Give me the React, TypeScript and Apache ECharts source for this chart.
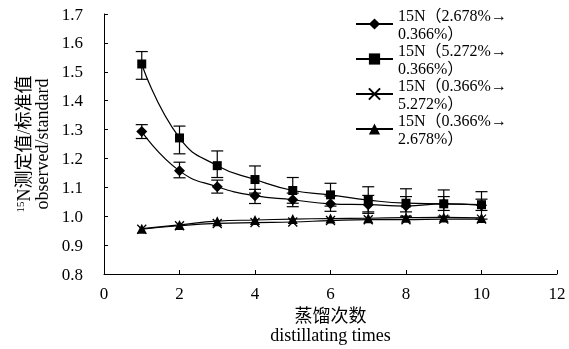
import React, { useEffect, useRef } from "react";
import * as echarts from "echarts";

const xs = [1, 2, 3, 4, 5, 6, 7, 8, 9, 10];
const seriesNames = [
  "15N（2.678%→\n0.366%）",
  "15N（5.272%→\n0.366%）",
  "15N（0.366%→\n5.272%）",
  "15N（0.366%→\n2.678%）",
];
const diamondVals = [1.293, 1.157, 1.102, 1.071, 1.057, 1.043, 1.04, 1.035, 1.043, 1.038];
const squareVals = [1.527, 1.271, 1.175, 1.127, 1.089, 1.074, 1.056, 1.045, 1.043, 1.04];
const crossVals = [0.955, 0.967, 0.975, 0.978, 0.98, 0.985, 0.988, 0.988, 0.99, 0.99];
const triVals = [0.957, 0.97, 0.983, 0.987, 0.99, 0.992, 0.993, 0.995, 0.996, 0.994];

const diamondLo = [1.269, 1.133, 1.08, 1.044, 1.033, 1.017, 1.015, 1.015, 1.02, 1.02];
const diamondHi = [1.317, 1.187, 1.125, 1.093, 1.08, 1.07, 1.072, 1.068, 1.068, 1.059];
const squareLo = [1.474, 1.216, 1.134, 1.08, 1.045, 1.035, 1.01, 1.0, 1.0, 0.99];
const squareHi = [1.57, 1.312, 1.226, 1.174, 1.134, 1.114, 1.102, 1.095, 1.091, 1.085];

const yTicks = { min: 0.8, max: 1.7, interval: 0.1 };
const xTicks = { min: 0, max: 12, interval: 2 };

const FONT = "Liberation Serif, Noto Sans CJK SC, serif";

function errorBar(lo: number[], hi: number[]) {
  return {
    type: "custom",
    silent: true,
    data: xs.map((x, i) => [x, lo[i], hi[i]]),
    encode: { x: 0, y: [1, 2] },
    renderItem: (_p: any, api: any) => {
      const x = api.value(0);
      const a = api.coord([x, api.value(1)]);
      const b = api.coord([x, api.value(2)]);
      const w = 6;
      const st = { stroke: "#000", lineWidth: 1.2 };
      return {
        type: "group",
        children: [
          { type: "line", shape: { x1: a[0], y1: a[1], x2: b[0], y2: b[1] }, style: st },
          { type: "line", shape: { x1: a[0] - w, y1: a[1], x2: a[0] + w, y2: a[1] }, style: st },
          { type: "line", shape: { x1: b[0] - w, y1: b[1], x2: b[0] + w, y2: b[1] }, style: st },
        ],
      };
    },
    z: 1,
  };
}

function lineSeries(name: string, vals: number[], symbol: string, size: number, extra: any = {}) {
  return {
    type: "line",
    name,
    data: xs.map((x, i) => [x, vals[i]]),
    smooth: true,
    symbol,
    symbolSize: size,
    lineStyle: { color: "#000", width: 1.2 },
    itemStyle: { color: "#000", ...extra },
    z: 3,
  };
}

export default function App() {
  const ref = useRef<HTMLDivElement>(null);
  useEffect(() => {
    if (!ref.current) return;
    const chart = echarts.init(ref.current, undefined, { renderer: "svg" });
    chart.setOption({
      animation: false,
      textStyle: { fontFamily: FONT, color: "#000" },
      grid: { left: 104, right: 12, top: 14, bottom: 75, outerBoundsMode: "none", containLabel: false },
      legend: {
        orient: "vertical",
        left: 355,
        top: -3,
        padding: 0,
        itemWidth: 37,
        itemHeight: 14,
        itemGap: -19,
        data: seriesNames,
        textStyle: {
          fontFamily: FONT,
          fontSize: 16,
          lineHeight: 18,
          color: "#000",
          padding: [18, 0, 0, 0],
        },
      },
      xAxis: {
        type: "value",
        min: xTicks.min,
        max: xTicks.max,
        interval: xTicks.interval,
        name: "蒸馏次数\ndistillating times",
        nameLocation: "middle",
        nameGap: 30,
        nameTextStyle: { fontFamily: FONT, fontSize: 18, lineHeight: 19, color: "#000", verticalAlign: "top" },
        axisLine: { onZero: false, lineStyle: { color: "#000", width: 1 } },
        axisTick: { inside: true, length: 4, lineStyle: { color: "#000" } },
        axisLabel: { fontFamily: FONT, fontSize: 17, color: "#000", margin: 11 },
        splitLine: { show: false },
      },
      yAxis: {
        type: "value",
        min: yTicks.min,
        max: yTicks.max,
        interval: yTicks.interval,
        name: "{sup|15}N测定值/标准值\nobserved/standard",
        nameLocation: "middle",
        nameGap: 50,
        nameRotate: 90,
        nameTextStyle: {
          fontFamily: FONT,
          fontSize: 18,
          lineHeight: 18,
          color: "#000",
          rich: {
            sup: { fontSize: 11, fontFamily: FONT, color: "#000", padding: [0, 0, 7, 0] },
          },
        },
        axisLine: { show: true, lineStyle: { color: "#000", width: 1 } },
        axisTick: { show: true, inside: true, length: 4, lineStyle: { color: "#000" } },
        axisLabel: {
          fontFamily: FONT,
          fontSize: 17,
          color: "#000",
          margin: 21,
          formatter: (v: number) => v.toFixed(1),
        },
        splitLine: { show: false },
      },
      series: [
        errorBar(diamondLo, diamondHi),
        errorBar(squareLo, squareHi),
        lineSeries(seriesNames[0], diamondVals, "diamond", 11),
        lineSeries(seriesNames[1], squareVals, "rect", 9),
        lineSeries(seriesNames[2], crossVals, "path://M0,0L10,10M10,0L0,10", 9, {
          borderColor: "#000",
          borderWidth: 1.3,
        }),
        lineSeries(seriesNames[3], triVals, "triangle", 10),
      ],
    });
    return () => chart.dispose();
  }, []);
  return (
    <div
      ref={ref}
      style={{ position: "fixed", left: 0, top: 0, width: 569, height: 349 }}
    />
  );
}
